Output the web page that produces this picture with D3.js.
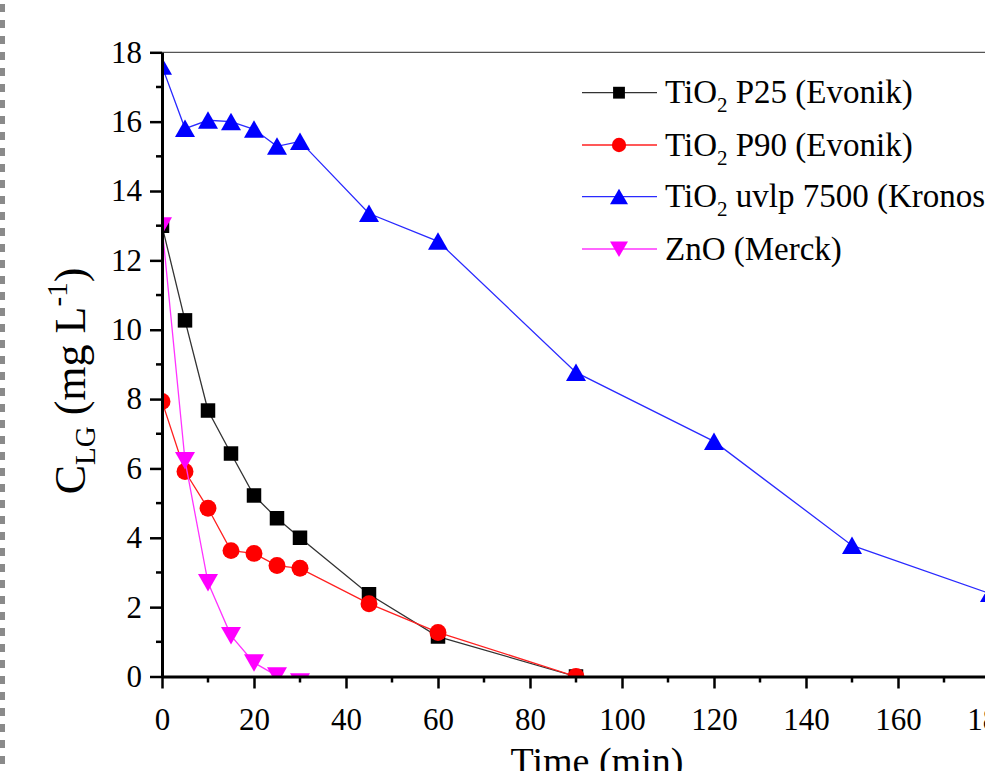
<!DOCTYPE html>
<html>
<head>
<meta charset="utf-8">
<script src="https://cdn.jsdelivr.net/npm/d3@7"></script>
<style>
  body { margin: 0; background: #fff; }
  text { font-family: "Liberation Serif", "Times New Roman", serif; fill: #000; }
</style>
</head>
<body>
<svg width="985" height="771"></svg>
<script>
var svg = d3.select("svg");
var width = +svg.attr("width");
var height = +svg.attr("height");

// data
var time = [0, 5, 10, 15, 20, 25, 30, 45, 60, 90, 120, 150, 180];
var p25 = [13.0, 10.27, 7.67, 6.43, 5.22, 4.56, 4.0, 2.37, 1.15, 0];
var p90 = [7.93, 5.91, 4.85, 3.63, 3.55, 3.2, 3.12, 2.1, 1.27, 0];
var uvlp = [17.6, 15.8, 16.04, 16.0, 15.78, 15.29, 15.43, 13.35, 12.55, 8.77, 6.78, 3.78, 2.39];
var zno = [13.0, 6.23, 2.71, 1.18, 0.4, 0.02, -0.15];
var seriesNames = ["P25 (Evonik)", "P90 (Evonik)", "uvlp 7500 (Kronos)", "ZnO (Merck)"];
var xTicks = [0, 20, 40, 60, 80, 100, 120, 140, 160, 180];
var yTicks = [0, 2, 4, 6, 8, 10, 12, 14, 16, 18];

var mLeft = 162, mRight = 990, mTop = 52.3, mBottom = 676.5;
var x = d3.scaleLinear().domain([0, 180]).range([mLeft, mRight]);
var y = d3.scaleLinear().domain([0, 18]).range([mBottom, mTop]);

// dashed border on the left
svg.append("line")
    .attr("x1", 2.5).attr("x2", 2.5).attr("y1", 4).attr("y2", height)
    .attr("stroke", "#8a8a8a").attr("stroke-width", 5)
    .attr("stroke-dasharray", "8,8");

svg.append("clipPath").attr("id", "plot")
  .append("rect")
    .attr("x", mLeft).attr("y", mTop)
    .attr("width", mRight - mLeft).attr("height", mBottom - mTop);

// triangle symbols, half width w and half height h
function tri(w, h, down) {
  var k = down ? -1 : 1;
  return { draw: function(c) {
    c.moveTo(0, -h * k); c.lineTo(w, (h - 0.5) * k); c.lineTo(-w, (h - 0.5) * k); c.closePath();
  } };
}

var series = [
  { name: seriesNames[0], values: p25, color: "#000000", line: "#333333", symbol: d3.symbolSquare, legSymbol: d3.symbolSquare, size: 210, legSize: 140 },
  { name: seriesNames[1], values: p90, color: "#ff0000", line: "#ff2020", symbol: d3.symbolCircle, legSymbol: d3.symbolCircle, size: 225, legSize: 160 },
  { name: seriesNames[2], values: uvlp, color: "#0000ff", line: "#2a2aff", symbol: tri(10, 9, false), legSymbol: tri(9, 8, false), size: 1, legSize: 1 },
  { name: seriesNames[3], values: zno, color: "#ff00ff", line: "#ff33ff", symbol: tri(10, 9, true), legSymbol: tri(9, 8, true), size: 1, legSize: 1 }
];

var line = d3.line()
    .x(function(d) { return x(d[0]); })
    .y(function(d) { return y(d[1]); });

var plot = svg.append("g").attr("clip-path", "url(#plot)");

series.forEach(function(s) {
  var pts = s.values.map(function(v, i) { return [time[i], v]; });
  plot.append("path")
      .attr("d", line(pts))
      .attr("fill", "none")
      .attr("stroke", s.line)
      .attr("stroke-width", 1.3);
  plot.selectAll(null)
    .data(pts)
    .enter().append("path")
      .attr("transform", function(d) { return "translate(" + x(d[0]) + "," + y(d[1]) + ")"; })
      .attr("d", d3.symbol().type(s.symbol).size(s.size))
      .attr("fill", s.color);
});

// frame
svg.append("line")
    .attr("x1", mLeft).attr("x2", mRight).attr("y1", mTop).attr("y2", mTop)
    .attr("stroke", "#555").attr("stroke-width", 1.3);

// axes
var xAxis = svg.append("g")
    .attr("transform", "translate(0," + mBottom + ")")
    .call(d3.axisBottom(x).tickValues(xTicks).tickSize(12).tickSizeOuter(0).tickPadding(14));
xAxis.append("g").selectAll("line")
    .data(d3.range(10, 180, 20))
    .enter().append("line")
      .attr("x1", function(d) { return x(d); }).attr("x2", function(d) { return x(d); })
      .attr("y1", 0).attr("y2", 6)
      .attr("stroke", "#000");

var yAxis = svg.append("g")
    .attr("transform", "translate(" + mLeft + ",0)")
    .call(d3.axisLeft(y).tickValues(yTicks).tickSize(12).tickSizeOuter(0).tickPadding(8));
yAxis.append("g").selectAll("line")
    .data(d3.range(1, 18, 2))
    .enter().append("line")
      .attr("y1", function(d) { return y(d); }).attr("y2", function(d) { return y(d); })
      .attr("x1", 0).attr("x2", -6)
      .attr("stroke", "#000");

svg.selectAll(".domain").attr("stroke", "#000").attr("stroke-width", 3);
xAxis.selectAll("line").attr("stroke-width", 2.5);
yAxis.selectAll("line").attr("stroke-width", 2.5);
svg.selectAll(".tick text")
    .style("font-family", "'Liberation Serif', serif")
    .style("font-size", "31px")
    .attr("fill", "#000");
xAxis.selectAll(".tick text").attr("dy", "0.9em");

// axis titles
var yt = svg.append("text")
    .attr("transform", "translate(85," + 381 + ") rotate(-90)")
    .attr("text-anchor", "middle")
    .style("font-size", "44px");
yt.append("tspan").text("C");
yt.append("tspan").attr("dy", 10).style("font-size", "29px").text("LG");
yt.append("tspan").attr("dy", -10).text(" (mg L");
yt.append("tspan").attr("dy", -18).style("font-size", "29px").text("-1");
yt.append("tspan").attr("dy", 18).text(")");

svg.append("text")
    .attr("x", 597).attr("y", 774)
    .attr("text-anchor", "middle")
    .style("font-size", "38px")
    .text("Time (min)");

// legend
var legendY = [92.7, 145, 196.7, 249];
var legend = svg.append("g");
series.forEach(function(s, i) {
  var g = legend.append("g").attr("transform", "translate(0," + legendY[i] + ")");
  g.append("line")
      .attr("x1", 582).attr("x2", 657).attr("y1", 0).attr("y2", 0)
      .attr("stroke", s.line).attr("stroke-width", 1.3);
  g.append("path")
      .attr("transform", "translate(619,0)")
      .attr("d", d3.symbol().type(s.legSymbol).size(s.legSize))
      .attr("fill", s.color);
  var t = g.append("text").attr("x", 665).attr("y", 10.5).style("font-size", "33px");
  if (i < 3) {
    t.append("tspan").text("TiO");
    t.append("tspan").attr("dy", 9).style("font-size", "21px").text("2");
    t.append("tspan").attr("dy", -9).text(" " + s.name);
  } else {
    t.text(s.name);
  }
});
</script>
</body>
</html>
